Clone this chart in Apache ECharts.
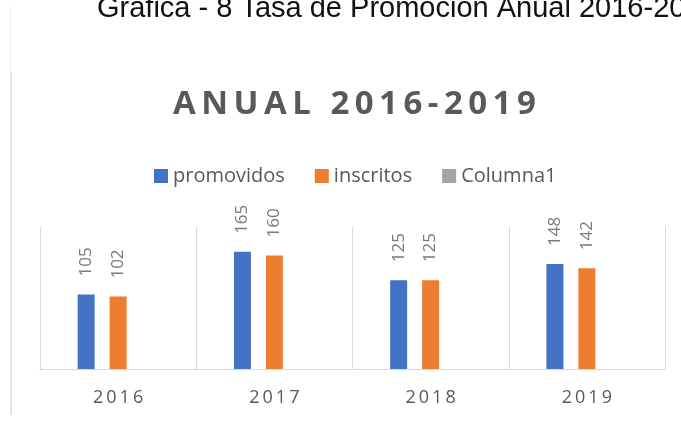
<!DOCTYPE html>
<html>
<head>
<meta charset="utf-8">
<script src="https://cdn.jsdelivr.net/npm/echarts@6/dist/echarts.min.js"></script>
<style>
  html,body{margin:0;padding:0;background:#fff;}
  #myChart{width:681px;height:421px;}
</style>
</head>
<body>
<div id="myChart"></div>
<script>
// datos de la grafica
const years = ['2016', '2017', '2018', '2019'];
const promovidos = [105, 165, 125, 148];
const inscritos = [102, 160, 125, 142];
const columna1 = [null, null, null, null];
const seriesNames = ['promovidos', 'inscritos', 'Columna1'];

const pageTitle = 'Gráfica - 8 Tasa de Promoción Anual 2016-2019';
const chartTitle = 'ANUAL 2016-2019';

// separar letras con un espacio fino (como el espaciado de Excel)
function spaced(str, sep){
    return str.split('').join(sep || '\u2009');
}

const myChart = echarts.init(document.getElementById('myChart'));

const labelStyle = {
    show: true,
    position: 'top',
    rotate: 90,
    align: 'left',
    verticalAlign: 'middle',
    distance: 18,
    fontSize: 17,
    color: '#7a7a7a',
    fontFamily: 'Open Sans'
};

const option = {
    backgroundColor: '#fff',
    animation: false,
    textStyle: {fontFamily: 'Open Sans'},
    title: {
        text: spaced(chartTitle),
        left: 168,
        top: 83,
        textStyle: {fontSize: 33, fontWeight: 'bold', color: '#595959', fontFamily: 'Open Sans'}
    },
    legend: {
        data: seriesNames,
        left: 154,
        top: 166,
        padding: 0,
        icon: 'rect',
        itemWidth: 14,
        itemHeight: 14,
        itemGap: 30,
        textStyle: {fontSize: 20, color: '#595959', fontFamily: 'Open Sans'}
    },
    grid: {left: 40, right: 16, top: 227, bottom: 52},
    xAxis: {
        type: 'category',
        data: years,
        axisLine: {lineStyle: {color: '#d9d9d9', width: 1}},
        axisTick: {show: false},
        splitLine: {show: true, interval: 0, lineStyle: {color: '#d9d9d9', width: 1}},
        axisLabel: {
            margin: 20,
            fontSize: 18,
            color: '#595959',
            fontFamily: 'Open Sans',
            formatter: function(v){ return spaced(v); }
        }
    },
    yAxis: {
        type: 'value',
        min: 0,
        max: 200,
        show: false,
        splitLine: {show: false}
    },
    series: [
        {name: seriesNames[0], type: 'bar', data: promovidos, barWidth: 17, barGap: '88%',
         itemStyle: {color: '#4472c4'}, label: labelStyle},
        {name: seriesNames[1], type: 'bar', data: inscritos, barWidth: 17, barGap: '88%',
         itemStyle: {color: '#ed7d31'}, label: labelStyle},
        {name: seriesNames[2], type: 'bar', data: columna1, barWidth: 17, barGap: '88%',
         itemStyle: {color: '#a5a5a5'}, label: labelStyle}
    ],
    graphic: [
        {type: 'text', left: 97, top: -6,
         style: {text: pageTitle, fontSize: 29, fill: '#111', fontFamily: 'Liberation Sans'}},
        {type: 'line', shape: {x1: 10.5, y1: 7, x2: 10.5, y2: 72},
         style: {stroke: '#ececec', lineWidth: 1}},
        {type: 'line', shape: {x1: 11, y1: 72, x2: 11, y2: 415},
         style: {stroke: '#d9d9d9', lineWidth: 1.5}}
    ]
};

myChart.setOption(option);
</script>
</body>
</html>
